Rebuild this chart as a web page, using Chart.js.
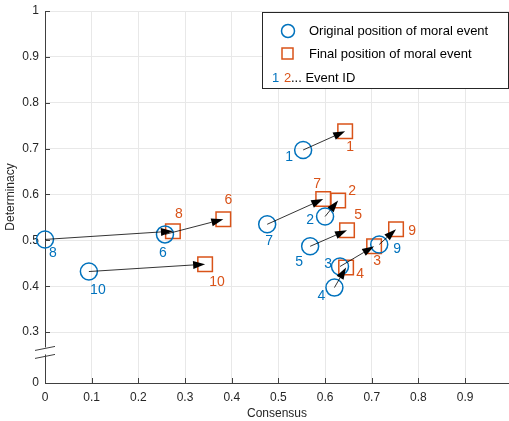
<!DOCTYPE html>
<html>
<head>
<meta charset="utf-8">
<script src="https://cdn.jsdelivr.net/npm/chart.js@4"></script>
<style>
  body { margin: 0; background: #fff; }
  canvas { display: block; }
</style>
</head>
<body>
<canvas id="chart" width="509" height="421"></canvas>
<script>
// event data
const eventIds = [1, 2, 3, 4, 5, 6, 7, 8, 9, 10];
const origX  = [0.553, 0.600, 0.632, 0.620, 0.568, 0.257, 0.476, 0.000, 0.716, 0.094];
const origY  = [0.697, 0.552, 0.443, 0.397, 0.487, 0.513, 0.535, 0.502, 0.491, 0.432];
const finalX = [0.643, 0.628, 0.705, 0.645, 0.647, 0.382, 0.596, 0.274, 0.752, 0.343];
const finalY = [0.738, 0.587, 0.487, 0.441, 0.522, 0.546, 0.590, 0.520, 0.524, 0.448];

// y axis has a break between 0 and 0.3: the 0 tick sits at 0.189 on the drawn scale
const yTickPos    = [0.189, 0.3, 0.4, 0.5, 0.6, 0.7, 0.8, 0.9, 1];
const yTickLabels = ['0', '0.3', '0.4', '0.5', '0.6', '0.7', '0.8', '0.9', '1'];
const xTickPos    = [0, 0.1, 0.2, 0.3, 0.4, 0.5, 0.6, 0.7, 0.8, 0.9];
const xTickLabels = ['0', '0.1', '0.2', '0.3', '0.4', '0.5', '0.6', '0.7', '0.8', '0.9'];

const BLUE = '#0072BD';
const ORANGE = '#D95319';
const FONT = '"Liberation Sans", Arial, Helvetica, sans-serif';

// label offsets in pixels (id labels next to markers)
const blueOff   = [[-14, 7], [-15, 4], [-12, -2], [-13, 9], [-11, 16], [-2, 19], [2, 17], [8, 14], [18, 5], [9, 19]];
const orangeOff = [[5, 16], [14, -9], [3, 15], [14, 7], [11, -15], [5, -19], [-6, -15], [6, -17], [16, 2], [12, 18]];

function arrow(ctx, x1, y1, x2, y2) {
    const ang = Math.atan2(y2 - y1, x2 - x1);
    const len = 12, hw = 4;
    const bx = x2 - len * Math.cos(ang), by = y2 - len * Math.sin(ang);
    ctx.strokeStyle = '#000';
    ctx.lineWidth = 0.8;
    ctx.beginPath();
    ctx.moveTo(x1, y1);
    ctx.lineTo(bx, by);
    ctx.stroke();
    ctx.fillStyle = '#000';
    ctx.beginPath();
    ctx.moveTo(x2, y2);
    ctx.lineTo(bx + hw * Math.sin(ang), by - hw * Math.cos(ang));
    ctx.lineTo(bx - hw * Math.sin(ang), by + hw * Math.cos(ang));
    ctx.closePath();
    ctx.fill();
}

const overlay = {
    id: 'overlay',
    afterDatasetsDraw(chart) {
        const ctx = chart.ctx;
        const xs = chart.scales.x, ys = chart.scales.y;
        const area = chart.chartArea;
        ctx.save();

        // inward tick marks
        ctx.strokeStyle = '#404040';
        ctx.lineWidth = 1;
        xTickPos.forEach(v => {
            const px = Math.round(xs.getPixelForValue(v)) + 0.5;
            ctx.beginPath();
            ctx.moveTo(px, area.bottom);
            ctx.lineTo(px, area.bottom - 5);
            ctx.stroke();
        });
        yTickPos.forEach(v => {
            const py = Math.round(ys.getPixelForValue(v)) + 0.5;
            ctx.beginPath();
            ctx.moveTo(area.left, py);
            ctx.lineTo(area.left + 5, py);
            ctx.stroke();
        });

        // axis break marks
        const yb = ys.getPixelForValue(0.26);
        ctx.fillStyle = '#fff';
        ctx.fillRect(area.left - 2, yb - 3, 4, 7);
        ctx.strokeStyle = '#404040';
        ctx.beginPath();
        ctx.moveTo(area.left - 10, yb + 0); ctx.lineTo(area.left + 10, yb - 4);
        ctx.moveTo(area.left - 10, yb + 8); ctx.lineTo(area.left + 10, yb + 4);
        ctx.stroke();

        // arrows from original to final position
        for (let i = 0; i < eventIds.length; i++) {
            arrow(ctx,
                xs.getPixelForValue(origX[i]), ys.getPixelForValue(origY[i]),
                xs.getPixelForValue(finalX[i]), ys.getPixelForValue(finalY[i]));
        }

        // event id labels
        ctx.font = '14px ' + FONT;
        ctx.textAlign = 'center';
        ctx.textBaseline = 'middle';
        for (let i = 0; i < eventIds.length; i++) {
            ctx.fillStyle = BLUE;
            ctx.fillText(String(eventIds[i]),
                xs.getPixelForValue(origX[i]) + blueOff[i][0], ys.getPixelForValue(origY[i]) + blueOff[i][1]);
            ctx.fillStyle = ORANGE;
            ctx.fillText(String(eventIds[i]),
                xs.getPixelForValue(finalX[i]) + orangeOff[i][0], ys.getPixelForValue(finalY[i]) + orangeOff[i][1]);
        }

        // legend box
        ctx.fillStyle = '#fff';
        ctx.fillRect(262.5, 12.5, 246, 76);
        ctx.strokeStyle = '#262626';
        ctx.lineWidth = 1;
        ctx.strokeRect(262.5, 12.5, 246, 76);
        ctx.lineWidth = 1.5;
        ctx.strokeStyle = BLUE;
        ctx.beginPath();
        ctx.arc(288, 31, 6.5, 0, Math.PI * 2);
        ctx.stroke();
        ctx.strokeStyle = ORANGE;
        ctx.strokeRect(282, 48, 11, 11);
        ctx.font = '13px ' + FONT;
        ctx.textAlign = 'left';
        ctx.fillStyle = '#000';
        ctx.fillText('Original position of moral event', 309, 31);
        ctx.fillText('Final position of moral event', 309, 54);
        ctx.fillStyle = BLUE;
        ctx.fillText('1', 272, 78);
        ctx.fillStyle = ORANGE;
        ctx.fillText('2', 284, 78);
        ctx.fillStyle = '#000';
        ctx.fillText('... Event ID', 291, 78);
        ctx.restore();
    }
};

const origPoints = eventIds.map((id, i) => ({ x: origX[i], y: origY[i] }));
const finalPoints = eventIds.map((id, i) => ({ x: finalX[i], y: finalY[i] }));

new Chart(document.getElementById('chart').getContext('2d'), {
    type: 'scatter',
    data: {
        datasets: [
            {
                label: 'Original position of moral event',
                data: origPoints,
                pointStyle: 'circle',
                pointRadius: 8.5,
                borderColor: BLUE,
                backgroundColor: 'rgba(0,0,0,0)',
                borderWidth: 1.5,
                clip: false
            },
            {
                label: 'Final position of moral event',
                data: finalPoints,
                pointStyle: 'rect',
                pointRadius: 10.3,
                borderColor: ORANGE,
                backgroundColor: 'rgba(0,0,0,0)',
                borderWidth: 1.5,
                clip: false
            }
        ]
    },
    options: {
        responsive: false,
        animation: false,
        events: [],
        layout: { autoPadding: false, padding: { top: 11, left: 0, right: 0, bottom: 0 } },
        plugins: {
            legend: { display: false },
            tooltip: { enabled: false }
        },
        scales: {
            x: {
                type: 'linear',
                min: 0,
                max: 0.994,
                afterBuildTicks: s => { s.ticks = xTickPos.map(v => ({ value: v })); },
                afterFit: s => { s.height = 38; s.paddingLeft = 0; s.paddingRight = 0; },
                grid: { color: '#e8e8e8', drawTicks: false },
                border: { color: '#404040', width: 1 },
                ticks: {
                    padding: 7,
                    color: '#262626',
                    font: { family: FONT, size: 12 },
                    maxRotation: 0,
                    callback: (v, i) => xTickLabels[i]
                },
                title: {
                    display: true,
                    text: 'Consensus',
                    color: '#262626',
                    padding: 0,
                    font: { family: FONT, size: 12 }
                }
            },
            y: {
                type: 'linear',
                min: 0.189,
                max: 1,
                afterBuildTicks: s => { s.ticks = yTickPos.map(v => ({ value: v })); },
                afterFit: s => { s.width = 45; s.paddingTop = 0; s.paddingBottom = 0; },
                grid: { color: '#e8e8e8', drawTicks: false },
                border: { color: '#404040', width: 1 },
                ticks: {
                    padding: 6,
                    color: '#262626',
                    font: { family: FONT, size: 12 },
                    callback: (v, i) => yTickLabels[i]
                },
                title: {
                    display: true,
                    text: 'Determinacy',
                    color: '#262626',
                    padding: { top: 3, bottom: 0 },
                    font: { family: FONT, size: 12 }
                }
            }
        }
    },
    plugins: [overlay]
});
</script>
</body>
</html>
